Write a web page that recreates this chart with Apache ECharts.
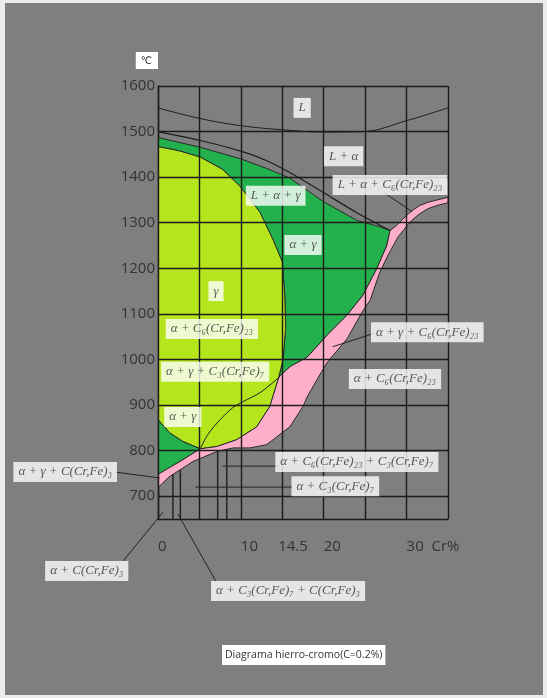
<!DOCTYPE html>
<html>
<head>
<meta charset="utf-8">
<script src="https://cdn.jsdelivr.net/npm/echarts@6/dist/echarts.min.js"></script>
<style>
  html, body { margin: 0; padding: 0; background: #ececec; }
  #chart { position: absolute; left: 5px; top: 3px; width: 538px; height: 692px; }
</style>
</head>
<body>
<div id="chart"></div>
<script>
// Fe–Cr section at 0.2 % C : composition (Cr %) vs temperature (°C)

// axis ticks
const xGridValues = [0, 5, 10, 15, 20, 25, 30, 35];
const xTickValues = [0, 10, 14.5, 20, 30];
const xTickLabels = ['0', '10', '14.5', '20', '30  Cr%'];
const yTickValues = [700, 800, 900, 1000, 1100, 1200, 1300, 1400, 1500, 1600];

// phase fields, [Cr %, °C]
const alphaGammaField = [
  [0, 1487], [5, 1466], [10, 1440], [13, 1420], [15.9, 1398], [19.9, 1347], [24, 1305],
  [26.8, 1291], [28, 1283], [27.6, 1249], [26.4, 1199], [24.7, 1140], [22.8, 1097],
  [20.5, 1055], [18, 1005], [16, 985], [14.7, 964], [14.6, 964], [15.1, 1000], [15.4, 1068],
  [15.3, 1140], [15, 1214], [13.9, 1262], [12.3, 1323], [9.9, 1380], [7.8, 1417],
  [5.1, 1444], [2.5, 1458], [0, 1467]
];
const gammaField = [
  [0, 1467], [2.5, 1458], [5.1, 1444], [7.8, 1417], [9.9, 1380], [12.3, 1323], [13.9, 1262],
  [15, 1214], [15.3, 1140], [15.4, 1068], [15.1, 1000], [14.6, 964], [14.5, 956],
  [13.5, 897], [11.9, 852], [9.5, 824], [7.1, 809], [5.1, 804], [3, 820], [1.4, 839], [0, 868]
];
const lowAlphaGammaField = [
  [0, 868], [1.4, 839], [3, 820], [5.1, 804], [3, 780], [1.4, 763], [0, 748]
];
const carbideBand = [
  [0, 719], [1.4, 743], [4.2, 776], [7.1, 798], [9.1, 806], [11.1, 806], [13.1, 813],
  [15.9, 852], [17.5, 897], [18, 918], [19.2, 956], [20.4, 993], [22.8, 1045], [24.7, 1106],
  [25.6, 1130], [26.8, 1193], [27.8, 1230], [29, 1270], [29.6, 1283], [30.1, 1295],
  [30.8, 1308], [31.6, 1320], [32.6, 1331], [33.7, 1338], [35, 1344],
  [35, 1356], [33.7, 1350], [32.6, 1345], [31.6, 1338], [30.7, 1327], [30, 1316],
  [29.4, 1305], [28.8, 1294], [28, 1283],
  [27.6, 1249], [26.4, 1199], [24.7, 1140], [22.8, 1097], [20.5, 1055], [18, 1005],
  [16, 985], [14.7, 964], [14.5, 956], [13.5, 897], [11.9, 852], [9.5, 824], [7.1, 809],
  [5.1, 804], [3, 780], [1.4, 763], [0, 748]
];

// boundary lines
const liquidusL = [[0, 1552], [5, 1529], [10, 1513], [15, 1504], [20, 1499], [24.7, 1500], [30, 1524], [35, 1552]];
const liquidusAlpha = [[0, 1500], [5, 1481], [10, 1457], [13, 1437], [15.9, 1410], [19.9, 1367], [24, 1322], [28, 1283]];
const c7Boundary = [[5.1, 804], [6, 835], [7.5, 868], [9, 894], [10.3, 908], [12.3, 927], [14.5, 959]];
const lowVerticals = [
  [[1.8, 650], [1.8, 748]],
  [[2.7, 650], [2.7, 757]],
  [[7.2, 650], [7.2, 798]],
  [[8.3, 650], [8.3, 803]]
];

// field names and their anchor points
const fieldNames = [
  'L', 'L + α', 'L + α + C₆(Cr,Fe)₂₃', 'L + α + γ', 'α + γ', 'γ',
  'α + C₆(Cr,Fe)₂₃', 'α + γ + C₃(Cr,Fe)₇', 'α + γ', 'α + γ + C₆(Cr,Fe)₂₃',
  'α + C₆(Cr,Fe)₂₃', 'α + γ + C(Cr,Fe)₃', 'α + C₆(Cr,Fe)₂₃ + C₃(Cr,Fe)₇',
  'α + C₃(Cr,Fe)₇', 'α + C(Cr,Fe)₃', 'α + C₃(Cr,Fe)₇ + C(Cr,Fe)₃'
];
const fieldNameX = [17.4, 22.4, 28.0, 14.2, 17.5, 7.0, 6.5, 6.9, 3.0, 32.5, 28.6, -11.2, 24.0, 21.4, -8.6, 15.7];
const fieldNameT = [1552, 1446, 1383, 1359, 1251, 1150, 1067, 973, 874, 1060, 957, 753, 775, 722, 536, 492];

// pointer lines from names to their fields
const pointers = [
  [[27.2, 1367], [30.7, 1324]],
  [[26.2, 1058], [21.1, 1028]],
  [[-5.2, 753], [0.2, 740]],
  [[7.8, 766], [14.7, 766]],
  [[4.5, 720], [16.3, 720]],
  [[-4.2, 558], [0.6, 665]],
  [[7.1, 510], [2.4, 661]]
];

const INK = '#1c1c1c';
const fields = [
  { points: alphaGammaField, color: '#22b14c' },
  { points: gammaField, color: '#b5e61d' },
  { points: lowAlphaGammaField, color: '#22b14c' },
  { points: carbideBand, color: '#ffaec9' }
];

const chart = echarts.init(document.getElementById('chart'));

function lineSeries(data, opts) {
  return Object.assign({
    type: 'line', data: data, symbol: 'none', silent: true, clip: false, z: 5,
    lineStyle: { color: INK, width: 1 }
  }, opts || {});
}

const series = [
  {
    type: 'custom',
    coordinateSystem: 'cartesian2d',
    clip: true,
    silent: true,
    z: 2,
    data: fields.map(f => f.points[0]),
    renderItem: function (params, api) {
      const f = fields[params.dataIndex];
      return {
        type: 'polygon',
        shape: { points: f.points.map(p => api.coord(p)) },
        style: { fill: f.color, stroke: '#2a2a2a', lineWidth: 1 }
      };
    }
  },
  // chart grid drawn over the colour fields
  {
    type: 'line', data: [], silent: true, z: 4,
    markLine: {
      silent: true, symbol: 'none', animation: false,
      label: { show: false },
      lineStyle: { color: INK, width: 1.4, type: 'solid' },
      data: yTickValues.map(v => ({ yAxis: v })).concat(xGridValues.map(v => ({ xAxis: v })))
    }
  },
  lineSeries(liquidusL, { smooth: 0.4 }),
  lineSeries(liquidusAlpha, { smooth: 0.3, lineStyle: { color: INK, width: 1.2 } }),
  lineSeries(c7Boundary, { smooth: 0.3 })
];
lowVerticals.forEach(seg => series.push(lineSeries(seg, { lineStyle: { color: INK, width: 1.4 } })));

// pointer lines, allowed to run outside the plotting area
series.push({
  type: 'custom',
  coordinateSystem: 'cartesian2d',
  clip: false,
  silent: true,
  z: 6,
  data: pointers.map(s => s[0]),
  renderItem: function (params, api) {
    const s = pointers[params.dataIndex];
    const a = api.coord(s[0]);
    const b = api.coord(s[1]);
    return {
      type: 'line',
      shape: { x1: a[0], y1: a[1], x2: b[0], y2: b[1] },
      style: { stroke: '#222', lineWidth: 1 }
    };
  }
});

series.push({
  type: 'scatter',
  silent: true,
  clip: false,
  z: 10,
  symbolSize: 0,
  data: fieldNames.map((n, i) => [fieldNameX[i], fieldNameT[i], n]),
  label: {
    show: true,
    position: 'inside',
    formatter: p => p.value[2],
    fontFamily: 'Liberation Serif',
    fontStyle: 'italic',
    fontSize: 13,
    color: '#333',
    backgroundColor: '#ffffff',
    padding: [4, 5, 3, 5]
  }
});

chart.setOption({
  backgroundColor: '#7f7f7f',
  animation: false,
  title: {
    text: 'Diagrama hierro-cromo(C=0.2%)',
    left: 217, top: 642,
    backgroundColor: '#ffffff',
    padding: [5, 3, 4, 3],
    textStyle: { fontFamily: 'Open Sans', fontSize: 10.5, fontWeight: 'normal', color: '#333' }
  },
  grid: { left: 153, top: 83, right: 95, bottom: 176 },
  xAxis: {
    type: 'value', min: 0, max: 35, interval: 5,
    axisLine: { show: true, lineStyle: { color: INK, width: 1.4 } },
    axisTick: { show: false },
    splitLine: { show: false },
    axisLabel: {
      customValues: xTickValues,
      formatter: v => xTickLabels[xTickValues.indexOf(v)],
      align: 'left',
      margin: 20,
      fontFamily: 'Open Sans', fontSize: 15, color: '#333'
    }
  },
  yAxis: {
    type: 'value', min: 650, max: 1600,
    name: '℃',
    nameLocation: 'end',
    nameGap: 17,
    nameTextStyle: {
      align: 'right', fontFamily: 'DejaVu Sans', fontSize: 10, color: '#222',
      backgroundColor: '#ffffff', padding: [4, 6, 3, 5]
    },
    axisLine: { show: true, lineStyle: { color: INK, width: 1.4 } },
    axisTick: { show: false },
    splitLine: { show: false },
    axisLabel: {
      customValues: yTickValues,
      formatter: v => String(v),
      margin: 3,
      fontFamily: 'Open Sans', fontSize: 15, color: '#333'
    }
  },
  series: series
});
</script>
</body>
</html>
